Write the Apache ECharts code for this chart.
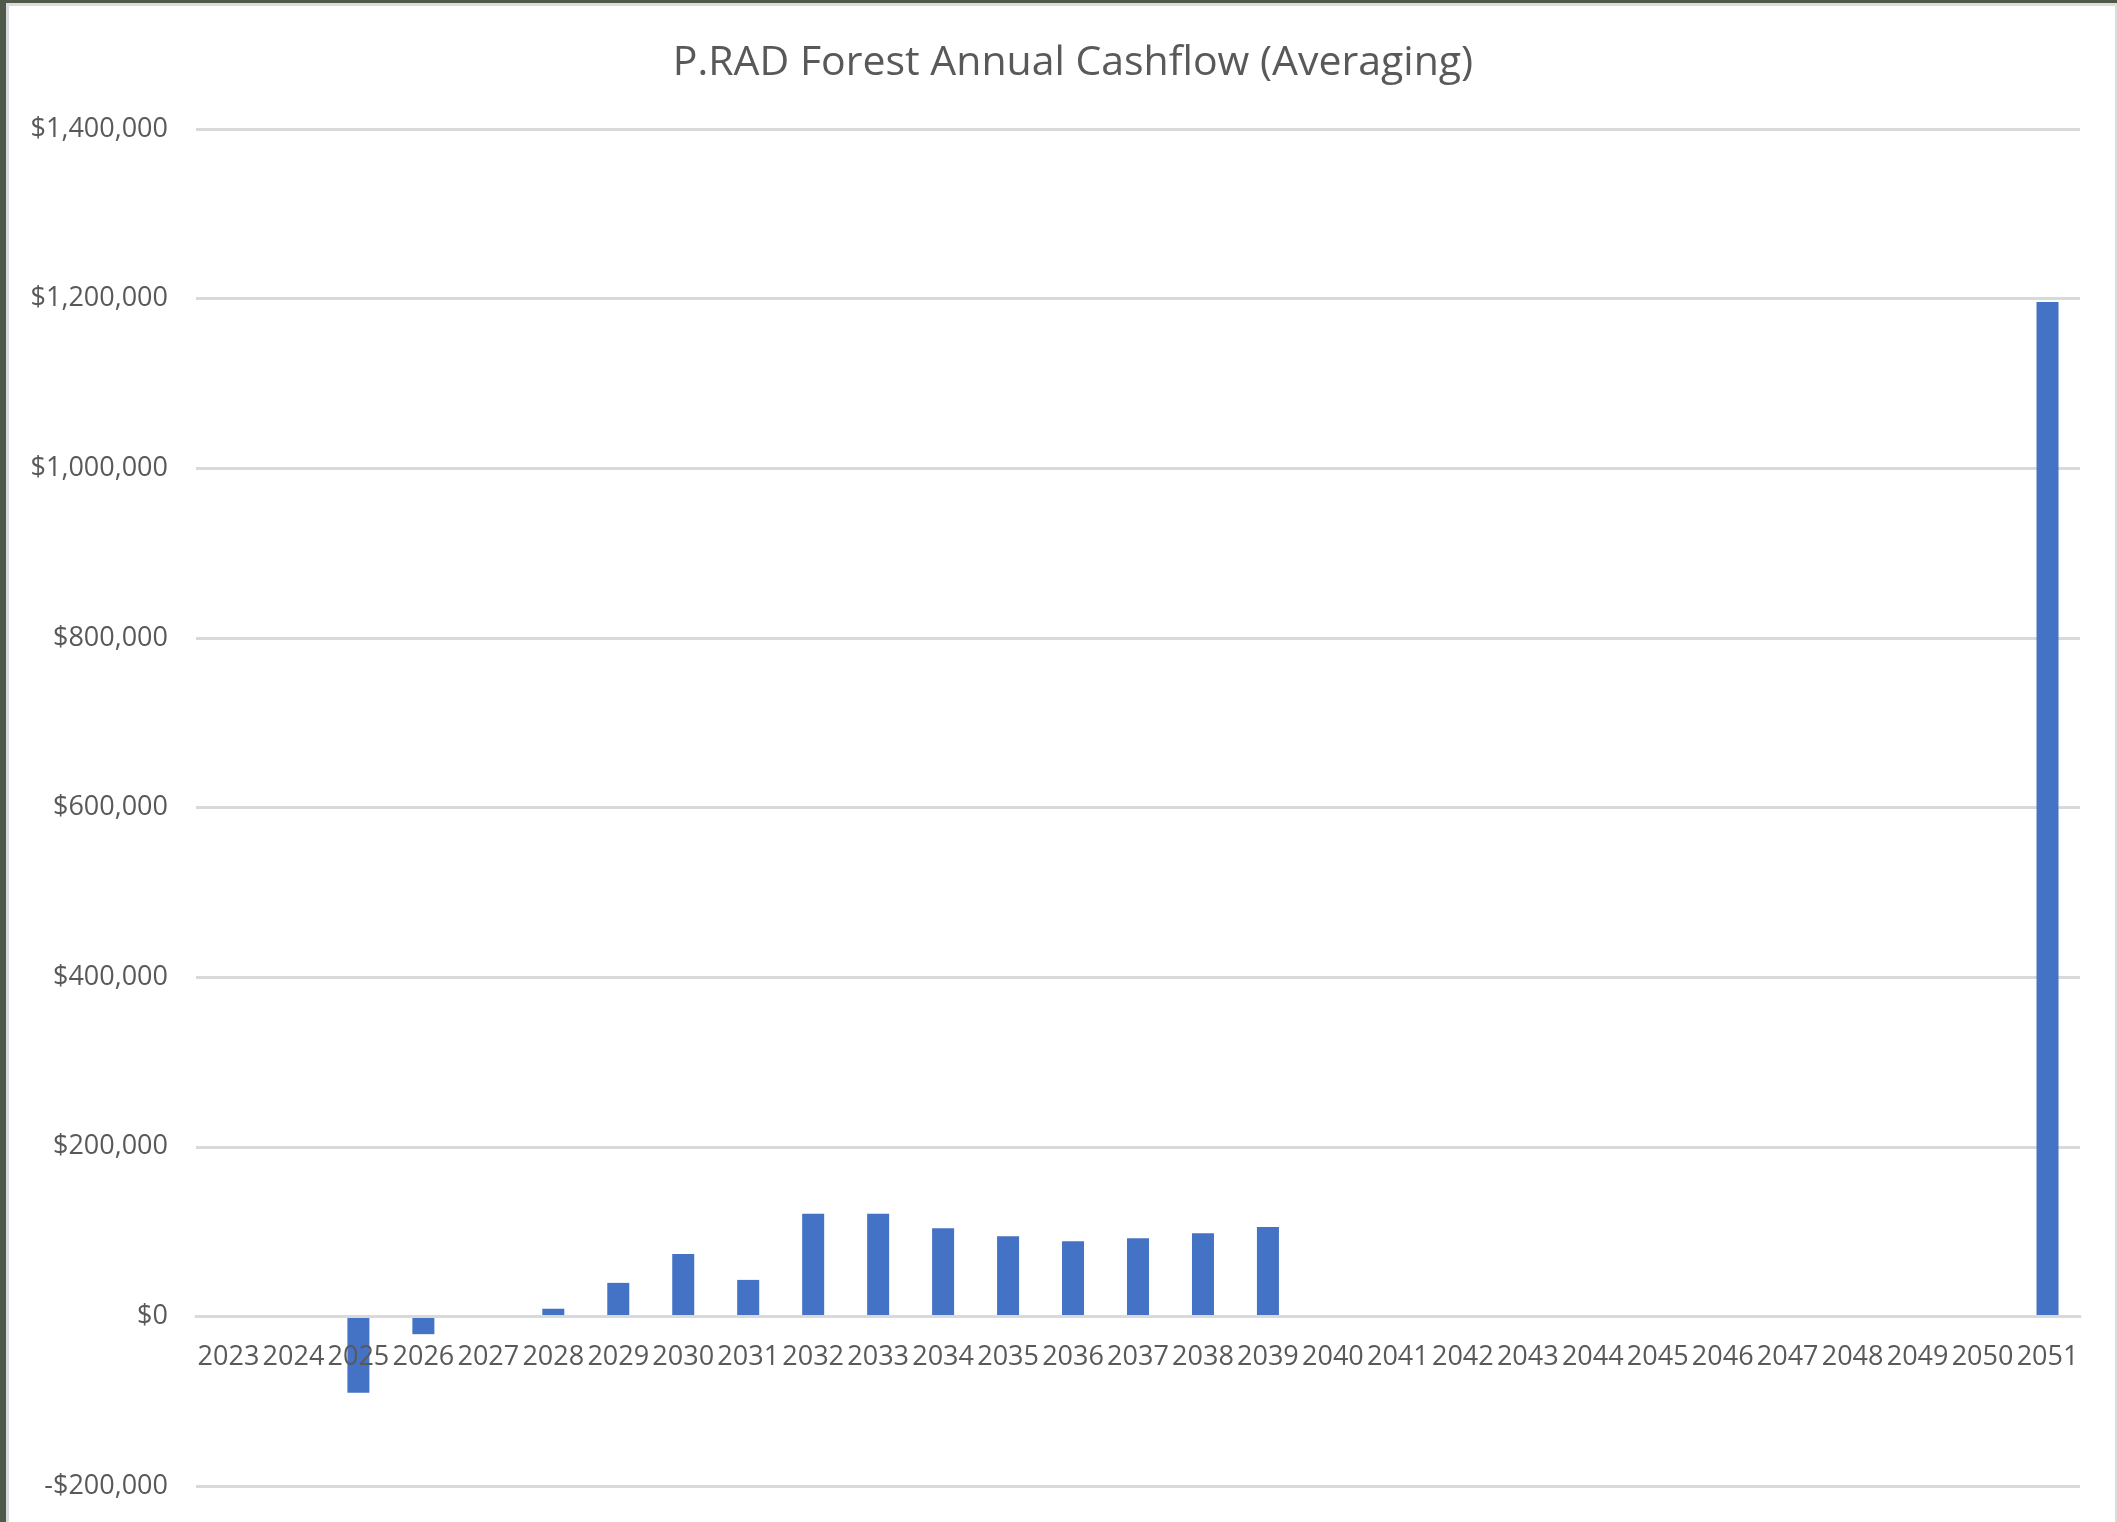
<!DOCTYPE html>
<html>
<head>
<meta charset="utf-8">
<title>P.RAD Forest Annual Cashflow (Averaging)</title>
<script src="https://cdn.jsdelivr.net/npm/echarts@6/dist/echarts.min.js"></script>
<style>
  html, body { margin: 0; padding: 0; width: 2117px; height: 1522px; overflow: hidden; background: #4f5a4a; }
  #frame { position: absolute; left: 6px; top: 3px; width: 2111px; height: 1519px; background: #dcdcdc; }
  #chart { position: absolute; left: 9px; top: 6px; width: 2106px; height: 1516px; background: #ffffff; }
</style>
</head>
<body>
<div id="frame"></div>
<div id="chart"></div>
<script>
// Years on the category axis
const years = [
  '2023','2024','2025','2026','2027','2028','2029','2030','2031','2032',
  '2033','2034','2035','2036','2037','2038','2039','2040','2041','2042',
  '2043','2044','2045','2046','2047','2048','2049','2050','2051'
];

// Annual net cashflow per year (USD)
const cashflow = [
  0, 0, -90000, -21000, 0, 9000, 39500, 73500, 43000, 121000,
  121000, 104000, 94500, 88500, 92000, 98000, 105500, 0, 0, 0,
  0, 0, 0, 0, 0, 0, 0, 0, 1196000
];

// Value axis range and step
const yMin = -200000;
const yMax = 1400000;
const yStep = 200000;

const textColor = '#595959';
const gridColor = '#d9d9d9';
const barColor = '#4472c4';
const fontFamily = '"Open Sans", "Noto Sans", sans-serif';

const gridTop = 123;
const gridBottom = 36;
const chartHeight = 1516;

function money(v) {
  const s = Math.abs(v).toLocaleString('en-US');
  return (v < 0 ? '-$' : '$') + s;
}

// Distance from the bottom of the plot up to the zero line, so the
// year labels sit just under $0 the way a spreadsheet chart draws them.
const plotHeight = chartHeight - gridTop - gridBottom;
const zeroLift = plotHeight * (0 - yMin) / (yMax - yMin);

const chart = echarts.init(document.getElementById('chart'), null, { renderer: 'canvas' });

chart.setOption({
  animation: false,
  backgroundColor: '#ffffff',
  title: {
    text: 'P.RAD Forest Annual Cashflow (Averaging)',
    left: 1059,
    textAlign: 'center',
    top: 32,
    textStyle: {
      color: textColor,
      fontFamily: fontFamily,
      fontSize: 41,
      fontWeight: 'normal'
    }
  },
  grid: {
    left: 187,
    right: 35,
    top: gridTop,
    bottom: gridBottom,
    containLabel: false
  },
  xAxis: {
    type: 'category',
    data: years,
    boundaryGap: true,
    position: 'bottom',
    offset: -zeroLift,
    z: 5,
    axisLine: { show: true, onZero: false, lineStyle: { color: gridColor, width: 3 } },
    axisTick: { show: false },
    axisLabel: {
      interval: 0,
      color: textColor,
      fontFamily: fontFamily,
      fontSize: 27,
      margin: 27
    },
    splitLine: { show: false }
  },
  yAxis: {
    type: 'value',
    min: yMin,
    max: yMax,
    interval: yStep,
    axisLine: { show: false },
    axisTick: { show: false },
    axisLabel: {
      color: textColor,
      fontFamily: fontFamily,
      fontSize: 27,
      margin: 28,
      formatter: money
    },
    splitLine: { show: true, lineStyle: { color: gridColor, width: 3 } }
  },
  series: [{
    type: 'bar',
    data: cashflow,
    barWidth: 22,
    itemStyle: { color: barColor },
    z: 2
  }]
});
</script>
</body>
</html>
